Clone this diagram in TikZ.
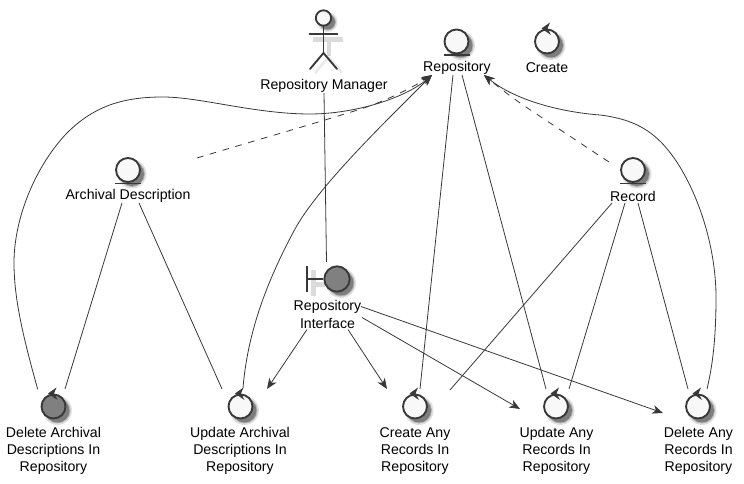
\documentclass[tikz,border=0pt]{standalone}
\usepackage{fontspec}
\setmainfont{Liberation Sans}
\usetikzlibrary{arrows.meta,calc}
\definecolor{ln}{HTML}{383838}
\definecolor{fl}{HTML}{F8F8F8}
\definecolor{gy}{HTML}{808080}
\tikzset{
  lbl/.style={inner sep=0pt,align=center,font=\fontsize{10.6}{13}\selectfont,text=black},
  ico/.style={circle,draw=ln,line width=1.4pt,fill=fl,minimum size=18pt,inner sep=0pt},
  icogray/.style={ico,fill=gy},
  conn/.style={draw=ln,line width=.6pt},
  dep/.style={conn,dash pattern=on 5pt off 5pt},
  arr/.style={-{Stealth[length=8pt,width=6.5pt,inset=2.4pt]}},
  glyph/.style={draw=ln,line width=1.4pt,line cap=round},
}
\newcommand{\softshadow}[3]{%
  \fill[black,opacity=.12] (#1+4,#2+4) circle ({(#3+2.5)*.75pt});
  \fill[black,opacity=.20] (#1+4,#2+4) circle ({(#3+1)*.75pt});
  \fill[black,opacity=.30] (#1+4,#2+4) circle ({(#3)*.75pt});
}
\newcommand{\entityicon}[4]{% name x y style
  \softshadow{#2}{#3}{12}
  \node[#4] (#1) at (#2,#3) {};
  \draw[glyph,line cap=butt] (#2-13,#3+13.5) -- (#2+13,#3+13.5);
}
\newcommand{\controlicon}[4]{% name x y style
  \softshadow{#2}{#3}{12}
  \node[#4] (#1) at (#2,#3) {};
  \fill[ln] (#2-5.5,#3-13) -- (#2+3,#3-19) -- (#2+.5,#3-13) -- (#2+4,#3-6.5) -- cycle;
}
\begin{document}
\begin{tikzpicture}[x=.75pt,y=-.75pt]
\useasboundingbox (0,0) rectangle (744,484);
% actor
\fill[black,opacity=.14] (313,37) rectangle (343,42);
\draw[black,opacity=.14,line width=3pt] (328.5,42) -- (328.5,56);
\draw[black,opacity=.08,line width=2pt] (315,73) -- (328.5,57) -- (342,73);
\softshadow{323.5}{18}{7.5}
\node[ico,minimum size=11.5pt] (actor) at (323.5,18) {};
\draw[glyph] (actor.south) -- (323.5,53) coordinate (hip);
\draw[glyph] (309.5,34) -- (337.5,34);
\draw[glyph] (310,69) -- (hip) -- (337,69);
\node[lbl] (manager) at (324,86) {Repository Manager};
% entities
\entityicon{repoicon}{456.5}{41.5}{ico}
\node[lbl] (repo) at (457,68) {Repository};
\controlicon{createicon}{547}{41.5}{ico}
\node[lbl] (create) at (547,68) {Create};
\entityicon{archicon}{128}{170}{ico}
\node[lbl] (arch) at (128,196) {Archival Description};
\entityicon{recicon}{633}{170}{ico}
\node[lbl] (rec) at (633,196) {Record};
% boundary
\softshadow{337}{279}{12.5}
\fill[black,opacity=.14] (311,270) rectangle (315.5,296);
\fill[black,opacity=.14] (315.5,282) rectangle (325,287);
\node[icogray,minimum size=19pt] (ifaceicon) at (337,279) {};
\draw[glyph,line cap=butt] (307,266.5) -- (307,292);
\draw[glyph,line cap=butt] (307,279) -- (ifaceicon.west);
\node[lbl] (iface) at (327.5,314.5) {Repository\\Interface};
% controls
\controlicon{delarchicon}{53.5}{406.5}{icogray}
\node[lbl] (delarch) at (53.5,451) {Delete Archival\\Descriptions In\\Repository};
\controlicon{updarchicon}{240.5}{406.5}{ico}
\node[lbl] (updarch) at (240,451) {Update Archival\\Descriptions In\\Repository};
\controlicon{creanyicon}{415}{406.5}{ico}
\node[lbl] (creany) at (415,451) {Create Any\\Records In\\Repository};
\controlicon{updanyicon}{556}{406.5}{ico}
\node[lbl] (updany) at (556.5,451) {Update Any\\Records In\\Repository};
\controlicon{delanyicon}{698}{406.5}{ico}
\node[lbl] (delany) at (698.5,451) {Delete Any\\Records In\\Repository};
% arrow targets next to the Repository label
\coordinate (tipL) at ([shift={(-25,7)}]repo.center);
\coordinate (tipR) at ([shift={(27,7)}]repo.center);
% connectors
\draw[conn] ([shift={(0,7)}]manager.center) -- ([shift={(-10.5,-17)}]ifaceicon.center);
\draw[conn] ([shift={(-6,7)}]arch.center) -- ([shift={(11.5,-17.5)}]delarchicon.center);
\draw[conn] ([shift={(11,7)}]arch.center) -- ([shift={(-18.5,-17.5)}]updarchicon.center);
\draw[conn] ([shift={(-4,7)}]repo.center) -- ([shift={(5,-17.5)}]creanyicon.center);
\draw[conn] ([shift={(5,7)}]repo.center) -- ([shift={(-10,-17.5)}]updanyicon.center);
\draw[conn] ([shift={(-21,7)}]rec.center) -- ([shift={(35,-16.5)}]creanyicon.center);
\draw[conn] ([shift={(-8,7)}]rec.center) -- ([shift={(13,-17.5)}]updanyicon.center);
\draw[conn] ([shift={(5,7)}]rec.center) -- ([shift={(-10,-17.5)}]delanyicon.center);
\draw[dep,arr] ([shift={(69,-38)}]arch.center) .. controls (260,139) and (310,125) .. (364,108)
   .. controls (390,99) and (415,86) .. (tipL);
\draw[dep,arr] ([shift={(-24,-34)}]rec.center) .. controls (580,143) and (550,123) .. (523,105)
   .. controls (510,96) and (497,86) .. (tipR);
\draw[conn,arr] ([shift={(-15.8,-17.2)}]delarchicon.center)
   .. controls (24,340) and (14,300) .. (14,263)
   .. controls (14,215) and (38,163) .. (67,133)
   .. controls (95,105) and (125,97) .. (163,97)
   .. controls (200,97) and (255,114) .. (310,114)
   .. controls (355,114) and (405,98) .. (tipL);
\draw[conn,arr] ([shift={(2.5,-18.5)}]updarchicon.center)
   .. controls (247,340) and (262,290) .. (295,229)
   .. controls (318,187) and (385,122) .. (tipL);
\draw[conn,arr] ([shift={(9,-17.5)}]delanyicon.center)
   .. controls (714,360) and (716,330) .. (716,297)
   .. controls (716,255) and (703,205) .. (680,167)
   .. controls (660,135) and (640,120) .. (600,115)
   .. controls (560,112) and (515,100) .. (tipR);
\draw[conn,arr] ([shift={(-20.5,15)}]iface.center) -- ([shift={(26.5,-17.5)}]updarchicon.center);
\draw[conn,arr] ([shift={(20.5,15)}]iface.center) -- ([shift={(-28,-17.5)}]creanyicon.center);
\draw[conn,arr] ([shift={(34.5,3)}]iface.center) -- ([shift={(-36,2.5)}]updanyicon.center);
\draw[conn,arr] ([shift={(33.5,-8)}]iface.center) -- ([shift={(-35,6.5)}]delanyicon.center);
\end{tikzpicture}
\end{document}
